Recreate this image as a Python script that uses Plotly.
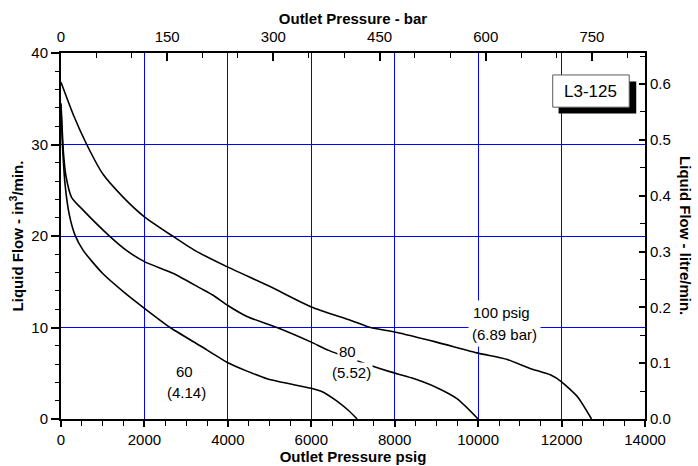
import plotly.graph_objects as go

# ---- data ----
p100_x = [0, 300, 617, 1000, 1500, 2000, 2673, 3217, 4000, 5000, 6000, 6939, 7419, 8000, 9000, 10000, 10700, 11261, 11741, 12000, 12382, 12718]
p100_y = [36.8, 33.2, 30.0, 26.8, 24.2, 22.1, 20.0, 18.4, 16.6, 14.5, 12.25, 10.8, 10.0, 9.5, 8.4, 7.2, 6.5, 5.5, 4.8, 4.07, 2.43, 0.0]

p80_x = [0, 30, 60, 120, 256, 536, 1137, 1577, 2000, 2697, 3337, 3657, 4000, 4458, 5178, 6000, 6418, 7459, 7900, 8400, 9000, 9500, 10000]
p80_y = [34.5, 31.5, 29.0, 26.5, 24.2, 22.8, 20.1, 18.4, 17.2, 15.9, 14.3, 13.5, 12.4, 11.2, 10.0, 8.4, 7.5, 5.8, 5.15, 4.5, 3.45, 2.2, 0.0]

p60_x = [0, 20, 40, 96, 200, 336, 536, 1000, 1500, 2000, 2617, 3337, 4000, 4938, 6000, 6300, 6600, 6900, 7099]
p60_y = [34.0, 31.5, 29.5, 25.7, 22.3, 20.1, 18.4, 15.9, 13.9, 12.1, 10.0, 8.0, 6.15, 4.4, 3.35, 2.9, 2.0, 0.9, 0.0]

x_range = [0, 14000]
y_range = [0, 40]
bar_range = [0, 825]
litre_range = [0, 0.6556]

FONT = "Liberation Sans, Arial, sans-serif"
BLUE = "rgb(0,0,255)"
FS = 15

fig = go.Figure()
for xs, ys in [(p100_x, p100_y), (p80_x, p80_y), (p60_x, p60_y)]:
    fig.add_trace(go.Scatter(x=xs, y=ys, mode="lines", xaxis="x", yaxis="y",
                             line=dict(color="black", width=1.6, shape="spline", smoothing=0.6),
                             showlegend=False, hoverinfo="skip"))

# invisible traces that carry the secondary (bar / litre) axes
fig.add_trace(go.Scatter(x=bar_range, y=y_range, xaxis="x2", yaxis="y", mode="lines",
                         line=dict(width=0), opacity=0, showlegend=False, hoverinfo="skip"))
fig.add_trace(go.Scatter(x=x_range, y=litre_range, xaxis="x", yaxis="y2", mode="lines",
                         line=dict(width=0), opacity=0, showlegend=False, hoverinfo="skip"))

axis_common = dict(zeroline=False, showline=True, linecolor="black", linewidth=2,
                   tickcolor="black", tickwidth=1.5, tickfont=dict(size=FS), automargin=False)

fig.update_layout(
    width=698, height=466,
    margin=dict(l=61, r=53, t=53, b=47),
    paper_bgcolor="white", plot_bgcolor="white",
    font=dict(family=FONT, size=FS, color="black"),
    showlegend=False,
    xaxis=dict(range=x_range, dtick=2000, tickformat="d", showgrid=True, gridcolor=BLUE, gridwidth=1,
               ticks="outside", ticklen=6,
               minor=dict(dtick=500, ticks="outside", ticklen=5, tickwidth=1.2, tickcolor="black", showgrid=False),
               title=dict(text="<b>Outlet Pressure psig</b>", font=dict(size=FS), standoff=0),
               **axis_common),
    xaxis2=dict(range=bar_range, dtick=150, tickformat="d", overlaying="x", side="top", anchor="y",
                showgrid=False, ticks="inside", ticklen=8, ticklabelstandoff=3,
                minor=dict(dtick=50, ticks="inside", ticklen=5, tickwidth=1.2, tickcolor="black", showgrid=False),
                title=dict(text="<b>Outlet Pressure - bar</b>", font=dict(size=FS), standoff=0),
                **axis_common),
    yaxis=dict(range=y_range, dtick=10, showgrid=True, gridcolor=BLUE, gridwidth=1,
               ticks="outside", ticklen=8,
               minor=dict(dtick=2, ticks="outside", ticklen=4, tickwidth=1.2, tickcolor="black", showgrid=False),
               title=dict(text="<b>Liquid Flow - in<sup>3</sup>/min.</b>", font=dict(size=FS), standoff=4),
               **axis_common),
    yaxis2=dict(range=litre_range, dtick=0.1, tickformat=".1f", overlaying="y", side="right", anchor="x",
                showgrid=False, ticks="inside", ticklen=6,
                minor=dict(dtick=0.05, ticks="inside", ticklen=5, tickwidth=1.2, tickcolor="black", showgrid=False),
                **axis_common),
)

# right axis title (reads top-to-bottom)
fig.add_annotation(text="<b>Liquid Flow - litre/min.</b>", xref="paper", yref="paper",
                   x=1.07, y=0.5, xanchor="center", yanchor="middle", textangle=90,
                   showarrow=False, font=dict(size=FS))

# curve labels
fig.add_annotation(text="60", x=2950, y=5.2, xref="x", yref="y", showarrow=False, font=dict(size=FS))
fig.add_annotation(text="(4.14)", x=3000, y=2.85, xref="x", yref="y", showarrow=False, font=dict(size=FS))
fig.add_annotation(text="80", x=6870, y=7.4, xref="x", yref="y", showarrow=False, font=dict(size=FS),
                   bgcolor="white", borderpad=1)
fig.add_annotation(text="(5.52)", x=6970, y=5.05, xref="x", yref="y", showarrow=False, font=dict(size=FS),
                   bgcolor="white", borderpad=1)
fig.add_annotation(text="100 psig", x=10560, y=11.6, xref="x", yref="y", showarrow=False, font=dict(size=FS),
                   bgcolor="white", borderpad=3)
fig.add_annotation(text="(6.89 bar)", x=10640, y=9.2, xref="x", yref="y", showarrow=False, font=dict(size=FS),
                   bgcolor="white", borderpad=3)

# model tag box with drop shadow
fig.add_shape(type="rect", xref="paper", yref="paper", x0=0.852, x1=0.985, y0=0.835, y1=0.922,
              fillcolor="black", line=dict(width=0), layer="above")
fig.add_shape(type="rect", xref="paper", yref="paper", x0=0.842, x1=0.973, y0=0.852, y1=0.940,
              fillcolor="white", line=dict(color="rgb(90,90,90)", width=1), layer="above")
fig.add_annotation(text="L3-125", xref="paper", yref="paper", x=0.9075, y=0.896,
                   xanchor="center", yanchor="middle", showarrow=False, font=dict(size=17))

fig.write_html("out.html", config={"displayModeBar": False},
               post_script="document.body.style.margin='0';")
